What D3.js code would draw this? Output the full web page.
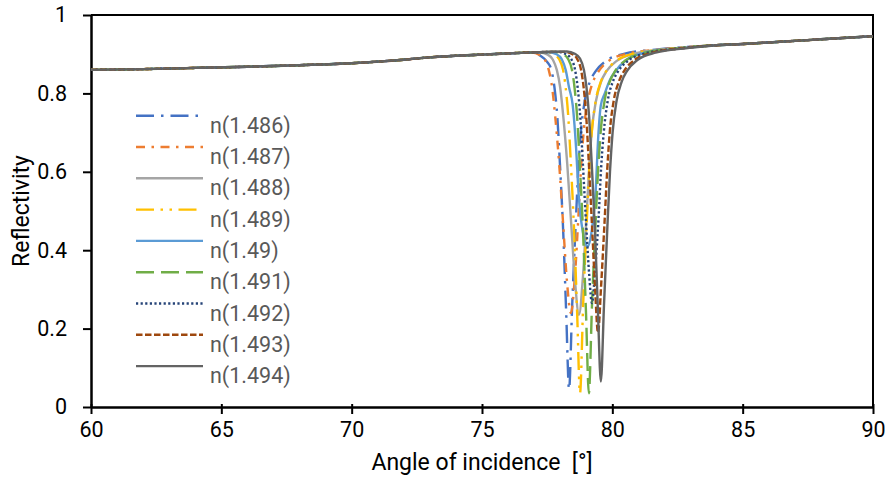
<!DOCTYPE html>
<html>
<head>
<meta charset="utf-8">
<script src="https://cdn.jsdelivr.net/npm/d3@7"></script>
<style>
  body { margin: 0; background: #fff; }
  text { font-family: Roboto, "Liberation Sans", sans-serif; white-space: pre; }
</style>
</head>
<body>
<div id="chart"></div>
<script>
// legend labels, one per series
var labels = ["n(1.486)", "n(1.487)", "n(1.488)", "n(1.489)", "n(1.49)",
              "n(1.491)", "n(1.492)", "n(1.493)", "n(1.494)"];

// part of the curve shared by all series (left of the dips, and far right)
var leftAngle = [60, 62, 64, 66, 68, 70, 71, 72, 73, 74, 75, 76, 76.5];
var leftRefl  = [0.860, 0.862, 0.865, 0.868, 0.872, 0.877, 0.881, 0.886, 0.892, 0.896, 0.899, 0.902, 0.9035];
var rightAngle = [84, 85, 86, 87, 88, 89, 90];
var rightRefl  = [0.923, 0.926, 0.930, 0.934, 0.938, 0.942, 0.946];

// dip region of every series, [angle, reflectivity]
var n1486 = [[76.94,0.904],[77.24,0.896],[77.49,0.881],[77.66,0.86],[77.78,0.815],[77.89,0.74],[77.99,0.62],
  [78.12,0.44],[78.23,0.24],[78.34,0.045],[78.46,0.26],[78.59,0.46],[78.69,0.6],[78.79,0.70],[78.94,0.78],
  [79.14,0.83],[79.34,0.855],[79.74,0.882],[80.44,0.901],[81.74,0.912]];
var n1487 = [[76.91,0.904],[77.21,0.898],[77.41,0.886],[77.56,0.86],[77.69,0.815],[77.81,0.74],[77.96,0.62],
  [78.11,0.47],[78.26,0.32],[78.41,0.24],[78.56,0.33],[78.71,0.5],[78.81,0.62],[78.91,0.71],[79.06,0.78],
  [79.26,0.83],[79.46,0.855],[79.86,0.883],[80.56,0.901],[81.81,0.912]];
var n1488 = [[77.22,0.904],[77.52,0.899],[77.72,0.886],[77.87,0.86],[78.00,0.815],[78.12,0.74],[78.27,0.62],
  [78.42,0.47],[78.57,0.32],[78.72,0.235],[78.87,0.33],[79.02,0.5],[79.12,0.62],[79.22,0.71],[79.37,0.78],
  [79.57,0.83],[79.77,0.856],[80.17,0.883],[80.87,0.902],[82.12,0.913]];
var n1489 = [[77.46,0.905],[77.76,0.900],[77.96,0.887],[78.11,0.86],[78.21,0.815],[78.31,0.74],[78.41,0.62],
  [78.54,0.44],[78.65,0.24],[78.76,0.035],[78.88,0.26],[79.01,0.46],[79.11,0.6],[79.21,0.70],[79.36,0.78],
  [79.56,0.83],[79.76,0.856],[80.16,0.883],[80.86,0.902],[82.16,0.913]];
var n1490 = [[77.56,0.905],[77.86,0.900],[78.06,0.887],[78.21,0.86],[78.34,0.815],[78.48,0.77],[78.61,0.66],
  [78.71,0.54],[78.86,0.45],[79.06,0.41],[79.21,0.45],[79.36,0.55],[79.46,0.69],[79.56,0.77],[79.71,0.80],
  [79.91,0.835],[80.11,0.856],[80.51,0.884],[81.21,0.903],[82.46,0.914]];
var n1491 = [[77.80,0.906],[78.10,0.900],[78.30,0.888],[78.45,0.86],[78.55,0.815],[78.65,0.74],[78.75,0.62],
  [78.88,0.44],[78.99,0.24],[79.10,0.035],[79.22,0.26],[79.35,0.46],[79.45,0.6],[79.55,0.70],[79.70,0.78],
  [79.90,0.83],[80.10,0.856],[80.50,0.884],[81.20,0.903],[82.50,0.915]];
var n1492 = [[77.92,0.906],[78.22,0.900],[78.42,0.888],[78.57,0.86],[78.67,0.815],[78.77,0.74],[78.87,0.62],
  [79.00,0.46],[79.11,0.34],[79.22,0.265],[79.34,0.35],[79.47,0.48],[79.57,0.61],[79.67,0.70],[79.82,0.78],
  [80.02,0.83],[80.22,0.856],[80.62,0.884],[81.32,0.903],[82.62,0.915]];
var n1493 = [[78.15,0.906],[78.45,0.901],[78.65,0.888],[78.80,0.86],[78.90,0.815],[79.00,0.74],[79.10,0.62],
  [79.23,0.45],[79.34,0.30],[79.45,0.19],[79.57,0.31],[79.70,0.47],[79.80,0.6],[79.90,0.70],[80.05,0.78],
  [80.25,0.83],[80.45,0.857],[80.85,0.885],[81.55,0.904],[82.85,0.916]];
var n1494 = [[78.26,0.907],[78.56,0.901],[78.76,0.889],[78.91,0.86],[79.01,0.815],[79.11,0.74],[79.21,0.62],
  [79.34,0.44],[79.45,0.24],[79.56,0.065],[79.68,0.26],[79.81,0.46],[79.91,0.6],[80.01,0.70],[80.16,0.78],
  [80.36,0.83],[80.56,0.857],[80.96,0.885],[81.66,0.904],[82.96,0.916]];

var xTicks = [60, 65, 70, 75, 80, 85, 90];
var yTicks = [0, 0.2, 0.4, 0.6, 0.8, 1];

// styles
var colors = ["#4472C4", "#ED7D31", "#A5A5A5", "#FFC000", "#5B9BD5",
              "#70AD47", "#264478", "#9E480E", "#636363"];
var dashes = ["18,7,2.5,7", "9,6.5,2.5,6.5", null, "18,6.5,2.5,6.5,2.5,6.5", null,
              "18,7", "2.2,2.4", "6.5,2.5", null];

var dips = [n1486, n1487, n1488, n1489, n1490, n1491, n1492, n1493, n1494];
var leftPts = leftAngle.map(function(a, i) { return [a, leftRefl[i]]; });
var rightPts = rightAngle.map(function(a, i) { return [a, rightRefl[i]]; });
var series = labels.map(function(l, i) {
  return { label: l, pts: leftPts.concat(dips[i], rightPts) };
});

var width = 886, height = 478;
var svg = d3.select("#chart").append("svg")
  .attr("width", width).attr("height", height);

var xScale = d3.scaleLinear().domain([60, 90]).range([91, 873]);
var yScale = d3.scaleLinear().domain([0, 1]).range([407, 15]);

// plot frame (top/right)
svg.append("path")
  .attr("d", "M" + xScale(60) + "," + yScale(1) + "H" + xScale(90) + "V" + yScale(0))
  .attr("fill", "none").attr("stroke", "#000").attr("stroke-width", 2);

var xAxis = d3.axisBottom(xScale).tickValues(xTicks).tickSize(7).tickSizeOuter(0)
  .tickFormat(d3.format("d"));
var gx = svg.append("g").attr("transform", "translate(0," + yScale(0) + ")").call(xAxis);
gx.select(".domain").attr("stroke-width", 2.5);
gx.selectAll(".tick line").attr("stroke-width", 2).attr("y1", -3);
gx.selectAll(".tick text").attr("font-size", 21.5).attr("fill", "#000").attr("dy", "0.95em");

var yAxis = d3.axisLeft(yScale).tickValues(yTicks).tickSize(8).tickSizeOuter(0)
  .tickFormat(function(d) { return d === 0 || d === 1 ? d3.format("d")(d) : d3.format(".1f")(d); });
var gy = svg.append("g").attr("transform", "translate(" + xScale(60) + ",0)").call(yAxis);
gy.select(".domain").attr("stroke-width", 2.5);
gy.selectAll(".tick line").attr("stroke-width", 2);
gy.selectAll(".tick text").attr("font-size", 21.5).attr("fill", "#000").attr("x", -24);

svg.append("text")
  .attr("x", (xScale(60) + xScale(90)) / 2).attr("y", 470)
  .attr("text-anchor", "middle").attr("font-size", 23).attr("fill", "#000")
  .text("Angle of incidence  [°]");
svg.append("text")
  .attr("transform", "translate(29," + (yScale(0) + yScale(1)) / 2 + ") rotate(-90)")
  .attr("text-anchor", "middle").attr("font-size", 23).attr("fill", "#000")
  .text("Reflectivity");

var line = d3.line()
  .x(function(d) { return xScale(d[0]); })
  .y(function(d) { return yScale(d[1]); })
  .curve(d3.curveMonotoneX);

svg.append("g").selectAll("path.series")
  .data(series)
  .enter()
  .append("path")
  .attr("class", "series")
  .attr("d", function(d) { return line(d.pts); })
  .attr("fill", "none")
  .attr("stroke", function(d, i) { return colors[i]; })
  .attr("stroke-width", 2.4)
  .attr("stroke-dasharray", function(d, i) { return dashes[i]; });

// legend
var legend = svg.append("g").selectAll("g")
  .data(series)
  .enter()
  .append("g")
  .attr("transform", function(d, i) { return "translate(136," + (115.7 + i * 31.3) + ")"; });
legend.append("line")
  .attr("x1", 0).attr("x2", 67).attr("y1", 0).attr("y2", 0)
  .attr("stroke", function(d, i) { return colors[i]; })
  .attr("stroke-width", 2.4)
  .attr("stroke-dasharray", function(d, i) { return dashes[i]; });
legend.append("text")
  .attr("x", 74).attr("y", 9.5)
  .attr("dominant-baseline", "central")
  .attr("font-size", 21.5).attr("fill", "#595959")
  .text(function(d) { return d.label; });
</script>
</body>
</html>
